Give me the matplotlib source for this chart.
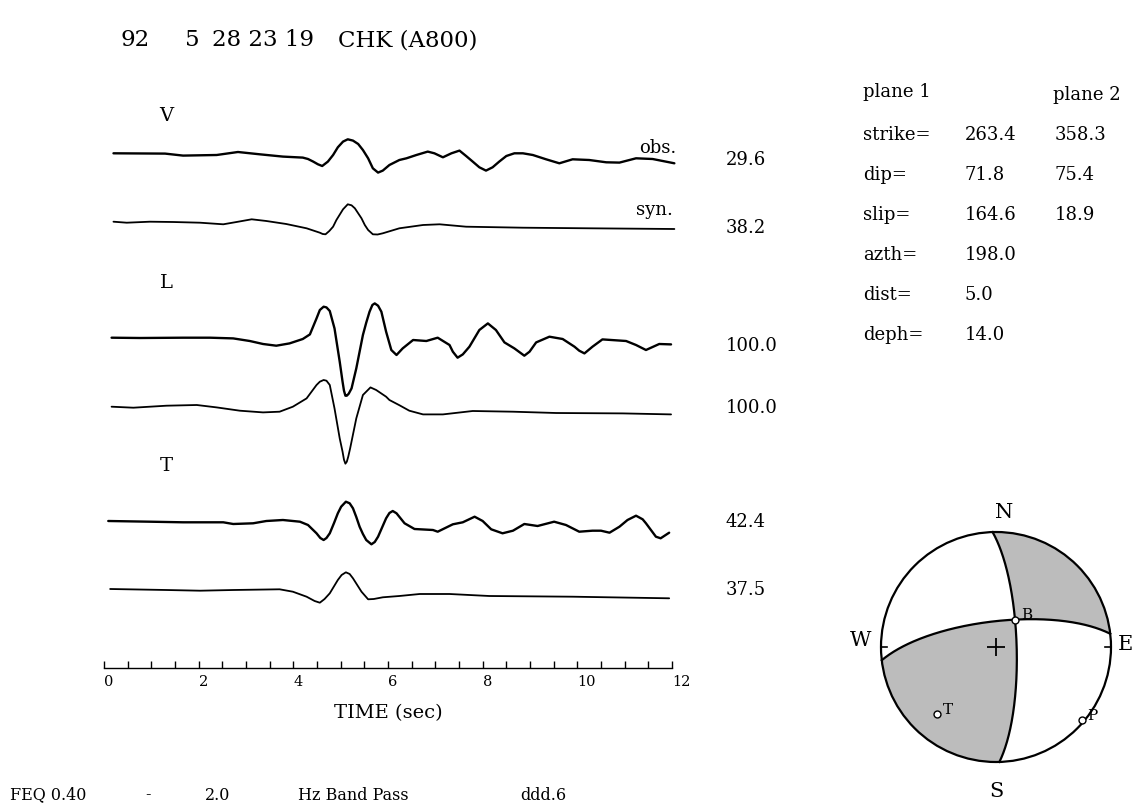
import numpy as np
import matplotlib
matplotlib.use('Agg')
import matplotlib.pyplot as plt
from matplotlib.patches import Circle

plt.rcParams['font.family'] = ['DejaVu Serif']

W, H = 1136, 809

# ---------- waveforms: time (sec) and amplitude (arbitrary units) ----------
v_obs_t = [0.20, 1.29, 1.67, 2.38, 2.83, 3.29, 3.78, 4.20, 4.31, 4.42, 4.52, 4.61, 4.73, 4.84,
           4.94, 5.05, 5.15, 5.26, 5.37, 5.47, 5.58, 5.68, 5.79, 5.89, 6.03, 6.24, 6.39, 6.60,
           6.84, 6.98, 7.16, 7.34, 7.51, 7.65, 7.79, 7.93, 8.07, 8.21, 8.35, 8.50, 8.67, 8.85,
           9.06, 9.34, 9.62, 9.90, 10.25, 10.61, 10.89, 11.24, 11.59, 12.05]
v_obs_a = [0, -0.3, -2.3, -1.7, 1.3, -1, -3.3, -4.3, -5.7, -8.3, -11, -12.7, -8.3, -1.7,
           6, 11.7, 14, 12.7, 9.3, 3.3, -5, -15, -19.3, -17.3, -11.7, -6.7, -5, -1.7,
           1.7, 0, -4, 0, 2.7, -2.7, -8.3, -14, -17.3, -14, -8.3, -2.7, 0, 0,
           -1.7, -6, -10, -6, -6.7, -9, -9.3, -5, -5.7, -10]

v_syn_t = [0.20, 0.48, 0.97, 1.46, 2.03, 2.52, 2.80, 3.12, 3.43, 3.85, 4.28, 4.56, 4.62, 4.68,
           4.76, 4.84, 4.91, 5.05, 5.15, 5.23, 5.30, 5.37, 5.44, 5.51, 5.58, 5.68, 5.78, 5.89,
           6.24, 6.74, 7.09, 7.65, 8.85, 10.25, 12.05]
v_syn_a = [0.3, -0.7, 0.3, 0, -0.7, -2.3, 0, 2.7, 1, -2, -6.3, -10.7, -12, -12.3,
           -9, -4.7, 2, 12.7, 17.7, 16.7, 13.7, 8.7, 3.7, -3, -8, -12.3, -12.5, -11.3,
           -6.3, -3, -2.3, -4.7, -5.7, -6.3, -7]

l_obs_t = [0.16, 0.76, 1.67, 2.24, 2.73, 3.08, 3.36, 3.64, 3.92, 4.20, 4.35, 4.49, 4.56, 4.64,
           4.70, 4.77, 4.87, 4.98, 5.04, 5.07, 5.10, 5.13, 5.17, 5.23, 5.33, 5.47, 5.54, 5.61,
           5.67, 5.72, 5.79, 5.86, 5.96, 6.07, 6.18, 6.31, 6.53, 6.81, 7.05, 7.30, 7.37, 7.47,
           7.58, 7.72, 7.93, 8.11, 8.28, 8.46, 8.67, 8.88, 8.99, 9.13, 9.41, 9.69, 9.94, 10.04,
           10.15, 10.32, 10.53, 11.03, 11.24, 11.45, 11.73, 11.98]
l_obs_a = [0, -0.3, 0, 0, -0.7, -3.3, -6.3, -8, -5.7, -1.3, 3.3, 19.3, 27.7, 31,
           30.3, 26.7, 9.3, -24, -44, -53, -58, -58, -56, -50.7, -30.7, 2.7, 15, 26,
           32.7, 34.3, 32, 26, 6, -12.3, -17.3, -10.7, -2.3, -3.3, 0, -7.3, -14, -20,
           -16.7, -9, 7.7, 14.3, 7.7, -4.7, -10.7, -18, -14, -4.7, 1, -1.3, -9, -13,
           -15.7, -9, -1.7, -3.3, -7.3, -12.3, -6.3, -6.7]

l_syn_t = [0.16, 0.62, 1.32, 1.96, 2.38, 2.87, 3.36, 3.71, 3.99, 4.28, 4.49, 4.56, 4.64, 4.70,
           4.77, 4.87, 4.98, 5.04, 5.07, 5.10, 5.13, 5.16, 5.20, 5.33, 5.47, 5.63, 5.75, 5.96,
           6.03, 6.24, 6.45, 6.74, 7.16, 7.79, 8.64, 9.55, 10.96, 11.98]
l_syn_a = [0, -1, 1, 1.7, -0.7, -4, -5.7, -5, 0, 8.3, 21.7, 25, 26.7, 26,
           21.7, -1.7, -31.7, -45, -53, -57, -55, -50, -41.7, -11.7, 11.7, 19.3, 16.7, 10,
           6.7, 1.5, -4, -7.7, -7.7, -4.3, -5, -6.3, -6.7, -7.7]

t_obs_t = [0.09, 0.97, 1.67, 2.52, 2.73, 3.15, 3.43, 3.78, 4.14, 4.31, 4.49, 4.57, 4.64, 4.70,
           4.77, 4.86, 4.94, 5.01, 5.11, 5.19, 5.26, 5.33, 5.40, 5.47, 5.54, 5.65, 5.72, 5.79,
           5.96, 6.03, 6.10, 6.18, 6.35, 6.56, 6.95, 7.05, 7.37, 7.58, 7.83, 8.00, 8.18, 8.42,
           8.64, 8.88, 9.16, 9.51, 9.76, 10.04, 10.32, 10.50, 10.68, 10.89, 11.06, 11.24, 11.38,
           11.45, 11.66, 11.76, 11.94]
t_obs_a = [0, -0.7, -1.3, -1.3, -3, -2.3, 0, 1, -0.7, -4, -12.3, -17, -19, -17,
           -12.3, -2, 7.7, 14.3, 19.3, 17.7, 12.7, 4, -5.7, -13, -19, -23.3, -21, -15.7,
           2.7, 8, 10, 7.7, -2.3, -8, -9, -10.7, -3.3, -1.3, 4.3, 0, -8.3, -12.3,
           -9.7, -3, -5, -0.7, -4, -10.7, -9.7, -9.7, -11.7, -5.7, 1, 5.3, 1.7,
           -2.3, -15.7, -17.3, -11.7]

t_syn_t = [0.13, 1.32, 2.03, 2.73, 3.71, 3.99, 4.28, 4.45, 4.56, 4.66, 4.77, 4.94, 5.02, 5.11,
           5.19, 5.26, 5.44, 5.58, 5.70, 5.89, 6.24, 6.67, 7.30, 8.14, 9.90, 11.94]
t_syn_a = [0, -1, -1.7, -1, -0.3, -2.7, -7.7, -12, -13.7, -10, -4.3, 9, 14, 16.7,
           15, 10.7, -2.7, -10.3, -10, -8.3, -7, -5, -5, -7, -7.7, -9.3]

components = ['V', 'L', 'T']
amp_labels = ['29.6', '38.2', '100.0', '100.0', '42.4', '37.5']

# ---------- fault parameters ----------
row_labels = ['strike=', 'dip=', 'slip=', 'azth=', 'dist=', 'deph=']
plane1 = ['263.4', '71.8', '164.6', '198.0', '5.0', '14.0']
plane2 = ['358.3', '75.4', '18.9']
strikes = [263.4, 358.3]
dips = [71.8, 75.4]
rakes = [164.6, 18.9]

title_parts = ['92', '5', '28 23 19', 'CHK (A800)']
bottom_parts = ['FEQ 0.40', '-', '2.0', 'Hz Band Pass', 'ddd.6']


def px(x, y):
    return x / W, 1 - y / H


fig = plt.figure(figsize=(W / 100, H / 100), dpi=100)

# ---------- traces ----------
x0, x12, yaxis, ytop = 104, 672, 668, 80
ax = fig.add_axes([x0 / W, 1 - yaxis / H, (x12 - x0) / W, (yaxis - ytop) / H])
ax.set_xlim(0, 12)
ax.set_ylim(-yaxis, -ytop)

traces = [(v_obs_t, v_obs_a, 153.3, 1.7), (v_syn_t, v_syn_a, 222, 1.3),
          (l_obs_t, l_obs_a, 337.7, 1.7), (l_syn_t, l_syn_a, 406.7, 1.3),
          (t_obs_t, t_obs_a, 521, 1.7), (t_syn_t, t_syn_a, 589, 1.3)]
for t, a, base, lw in traces:
    ax.plot(t, -base + np.array(a), color='black', lw=lw, clip_on=False,
            solid_joinstyle='round', solid_capstyle='round')

for s in ['top', 'left', 'right']:
    ax.spines[s].set_visible(False)
ax.spines['bottom'].set_linewidth(1.0)
ax.set_yticks([])
ax.set_xticks(np.arange(0, 13, 2))
ax.set_xticks(np.arange(0, 12.01, 0.5), minor=True)
ax.tick_params(which='both', direction='in', length=5, width=1, labelsize=10.5, pad=5)
for lab in ax.get_xticklabels():
    lab.set_horizontalalignment('left')
ax.set_xlabel('TIME (sec)', fontsize=14, labelpad=11)

# trace annotations
for name, y in zip(components, [116, 283, 466]):
    fig.text(*px(166, y), name, fontsize=14, ha='center', va='center')
fig.text(*px(676, 148), 'obs.', fontsize=13, ha='right', va='center')
fig.text(*px(673, 210), 'syn.', fontsize=13, ha='right', va='center')
for lab, y in zip(amp_labels, [160, 228, 346, 408, 522, 590]):
    fig.text(*px(726, y), lab, fontsize=13, ha='left', va='center')

# title
for part, x in zip(title_parts, [120, 185, 212, 338]):
    fig.text(*px(x, 40), part, fontsize=16.5, ha='left', va='center')

# bottom line
for part, x in zip(bottom_parts, [10, 145, 205, 298, 520]):
    fig.text(*px(x, 795), part, fontsize=11.5, ha='left', va='center')

# parameter table
fig.text(*px(863, 92), 'plane 1', fontsize=13, ha='left', va='center')
fig.text(*px(1053, 95), 'plane 2', fontsize=13, ha='left', va='center')
for i, lab in enumerate(row_labels):
    y = 135 + i * 40
    fig.text(*px(863, y), lab, fontsize=13, ha='left', va='center')
    fig.text(*px(965, y), plane1[i], fontsize=13, ha='left', va='center')
    if i < len(plane2):
        fig.text(*px(1055, y), plane2[i], fontsize=13, ha='left', va='center')


# ---------- focal mechanism (lower hemisphere, equal area) ----------
def fault_vectors(strike, dip, rake):
    f, d, l = np.radians([strike, dip, rake])
    n = np.array([-np.sin(d) * np.sin(f), np.sin(d) * np.cos(f), -np.cos(d)])
    s = np.array([np.cos(l) * np.cos(f) + np.sin(l) * np.cos(d) * np.sin(f),
                  np.cos(l) * np.sin(f) - np.sin(l) * np.cos(d) * np.cos(f),
                  -np.sin(l) * np.sin(d)])
    return n, s


def project(v):
    v = np.asarray(v, float).reshape(3, -1)
    v = v * np.where(v[2] < 0, -1, 1)
    v = v / np.linalg.norm(v, axis=0)
    plunge = np.arcsin(np.clip(v[2], -1, 1))
    az = np.arctan2(v[1], v[0])
    r = np.sqrt(2) * np.sin((np.pi / 2 - plunge) / 2)
    return r * np.sin(az), r * np.cos(az)


cx, cy, rad = 996, 647, 115
half = 1.3
bx = fig.add_axes([(cx - half * rad) / W, 1 - (cy + half * rad) / H,
                   2 * half * rad / W, 2 * half * rad / H])
bx.set_xlim(-half, half)
bx.set_ylim(-half, half)
bx.set_aspect('equal')
bx.axis('off')

n1, s1 = fault_vectors(strikes[0], dips[0], rakes[0])
g = np.linspace(-1, 1, 600)
X, Y = np.meshgrid(g, g)
R = np.hypot(X, Y)
th = 2 * np.arcsin(np.clip(R / np.sqrt(2), 0, 1))
az = np.arctan2(X, Y)
vn, ve, vd = np.sin(th) * np.cos(az), np.sin(th) * np.sin(az), np.cos(th)
F = (vn * n1[0] + ve * n1[1] + vd * n1[2]) * (vn * s1[0] + ve * s1[1] + vd * s1[2])
cs = bx.contourf(X, Y, F, levels=[0, F.max() + 1], colors=['#bcbcbc'])
clip = Circle((0, 0), 1, transform=bx.transData)
cs.set_clip_path(clip)

bx.add_patch(Circle((0, 0), 1, fill=False, lw=1.6, color='black'))

alpha = np.linspace(0, np.pi, 200)
for stk, dp in zip(strikes, dips):
    f, d = np.radians([stk, dp])
    sv = np.array([np.cos(f), np.sin(f), 0])
    dd = np.array([-np.cos(d) * np.sin(f), np.cos(d) * np.cos(f), np.sin(d)])
    v = np.outer(sv, np.cos(alpha)) + np.outer(dd, np.sin(alpha))
    xe, yn = project(v)
    bx.plot(xe, yn, color='black', lw=1.6)

Tax = (n1 + s1) / np.sqrt(2)
Pax = (n1 - s1) / np.sqrt(2)
Bax = np.cross(n1, s1)
for vec, lab, dx, dy in [(Bax, 'B', 0.05, 0.04), (Tax, 'T', 0.05, 0.03), (Pax, 'P', 0.05, 0.03)]:
    xe, yn = project(vec)
    bx.plot(xe, yn, 'o', ms=5, mfc='white', mec='black', mew=1.0)
    bx.text(xe[0] + dx, yn[0] + dy, lab, fontsize=11, ha='left', va='center')

bx.plot(0, 0, '+', ms=13, color='black', mew=1.3)
bx.plot([-1, -0.95], [0, 0], color='black', lw=1.2)
bx.plot([0.95, 1], [0, 0], color='black', lw=1.2)
bx.text(0.07, 1.17, 'N', fontsize=15, ha='center', va='center')
bx.text(0.0, -1.26, 'S', fontsize=15, ha='center', va='center')
bx.text(-1.08, 0.06, 'W', fontsize=15, ha='right', va='center')
bx.text(1.06, 0.02, 'E', fontsize=15, ha='left', va='center')

fig.savefig('out.png', dpi=100, facecolor='white')
